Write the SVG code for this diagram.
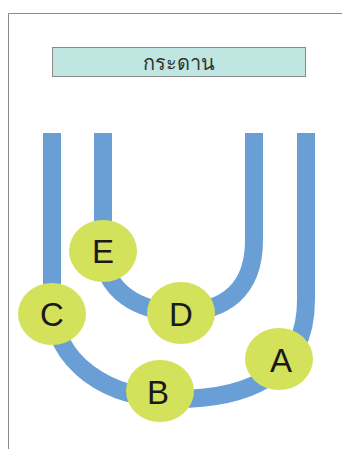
<svg xmlns="http://www.w3.org/2000/svg" width="342" height="449" viewBox="0 0 342 449">
<style>
.tube{fill:none;stroke:#6a9fd6;stroke-width:18}
.ball{fill:#d4e15a}
.lbl{font-family:"Liberation Sans",Arial,sans-serif;font-size:33px;fill:#1a1a1a;text-anchor:middle}
</style>
<rect width="342" height="449" fill="#ffffff"/>
<path d="M8.5,449 V13.5 H342" fill="none" stroke="#8a8a8a" stroke-width="1"/>
<g id="title">
<rect x="52.5" y="47.5" width="253" height="29" fill="#bfe6e1" stroke="#8a8a8a" stroke-width="1"/>
<text x="179" y="70" font-family="'Noto Sans','DejaVu Sans',sans-serif" font-size="20" fill="#333" text-anchor="middle">กระดาน</text>
</g>
<g id="connectors">
<path class="tube" d="M52,133 V300 C52,365 110,399 175,399 C240,399 306,380 306,300 V133"/>
<path class="tube" d="M103,133 V250 C103,292 140,312 180,312 C225,312 254,290 254,240 V133"/>
</g>
<g id="E"><ellipse class="ball" cx="103" cy="251" rx="34" ry="31"/><text class="lbl" x="103" y="263">E</text></g>
<g id="C"><ellipse class="ball" cx="52" cy="314" rx="34" ry="31"/><text class="lbl" x="52" y="326">C</text></g>
<g id="D"><ellipse class="ball" cx="181" cy="313" rx="34" ry="31"/><text class="lbl" x="181" y="326">D</text></g>
<g id="B"><ellipse class="ball" cx="160" cy="391" rx="34" ry="31"/><text class="lbl" x="158" y="404">B</text></g>
<g id="A"><ellipse class="ball" cx="279" cy="359" rx="34" ry="31"/><text class="lbl" x="281" y="372">A</text></g>
</svg>
